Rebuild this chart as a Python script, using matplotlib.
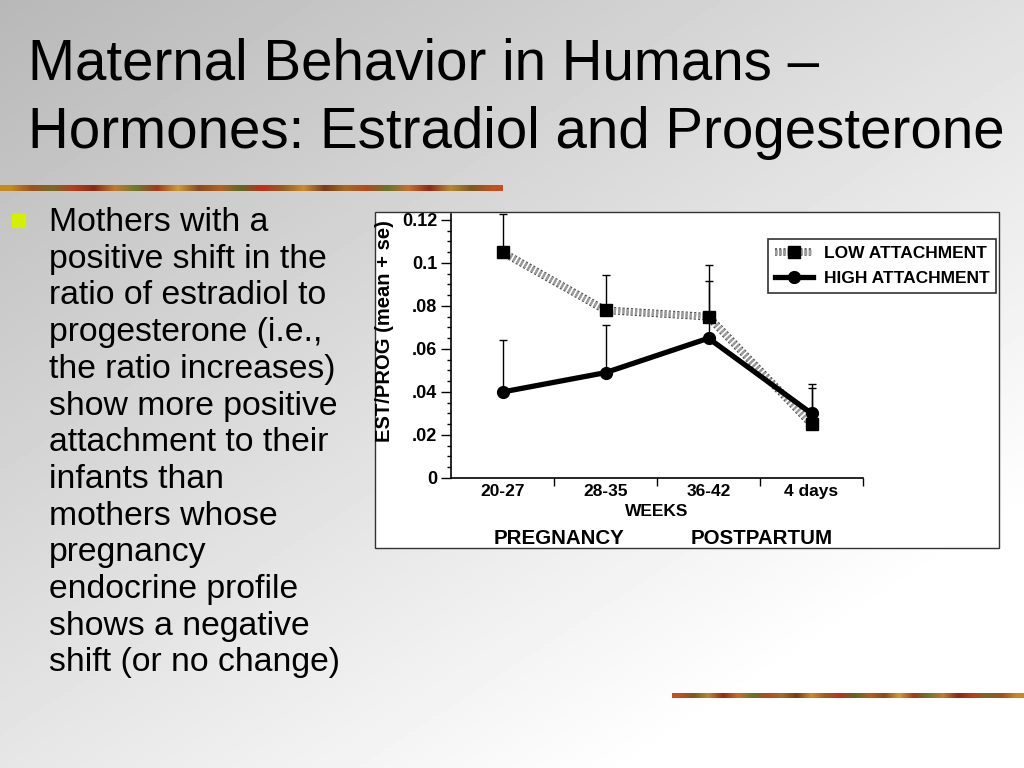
import matplotlib
matplotlib.use("Agg")
import matplotlib.pyplot as plt
import matplotlib.patheffects as pe
import numpy as np
from matplotlib.patches import Rectangle
from matplotlib.ticker import FixedLocator, MultipleLocator

plt.rcParams["font.family"] = ["Liberation Sans", "DejaVu Sans"]

# ---------- data ------------------------------------------------------
weeks = ["20-27", "28-35", "36-42", "4 days"]
low_mean = [0.105, 0.078, 0.075, 0.025]
low_se = [0.018, 0.0165, 0.024, 0.0187]
high_mean = [0.040, 0.049, 0.065, 0.030]
high_se = [0.024, 0.022, 0.0268, 0.0117]
ytick_vals = [0, 0.02, 0.04, 0.06, 0.08, 0.10, 0.12]
ytick_text = ["0", ".02", ".04", ".06", ".08", "0.1", "0.12"]

title_lines = ["Maternal Behavior in Humans \u2013",
               "Hormones: Estradiol and Progesterone"]
bullet_lines = ["Mothers with a", "positive shift in the", "ratio of estradiol to",
                "progesterone (i.e.,", "the ratio increases)", "show more positive",
                "attachment to their", "infants than", "mothers whose",
                "pregnancy", "endocrine profile", "shows a negative",
                "shift (or no change)"]

# autumn texture colours for the decorative strips
strip_colors = ["#c8891e", "#a0521c", "#7a6a22", "#b5401a", "#8c2a12", "#c47a2a",
                "#6e7a2a", "#a33a18", "#d29a32", "#8a4a1a", "#b8601e", "#5e6a24",
                "#c0301a", "#9a5a20", "#d08a2a", "#7a3a16", "#a86a22", "#b44a1c",
                "#6a7428", "#c8702a", "#902a14", "#b88a2e", "#7e5a1e", "#c4501e"]

W, H = 1024, 768
fig = plt.figure(figsize=(W / 100, H / 100), dpi=100)

# ---------- slide background -----------------------------------------
bg = fig.add_axes([0, 0, 1, 1])
bg.axis("off")
xx, yy = np.meshgrid(np.linspace(0, 1, 256), np.linspace(0, 1, 192))
grad = np.clip((184 + 40 * xx + 46 * yy) / 255.0, 0, 1)
bg.imshow(grad, cmap="gray", vmin=0, vmax=1, extent=(0, W, H, 0), aspect="auto")

strip = np.array([[matplotlib.colors.to_rgb(c) for c in strip_colors]])
bg.imshow(strip, extent=(0, 503, 191, 185), aspect="auto", interpolation="bilinear")
bg.imshow(strip[:, ::-1], extent=(672, W, 698, 693), aspect="auto",
          interpolation="bilinear")
bg.set_xlim(0, W)
bg.set_ylim(H, 0)

for i, line in enumerate(title_lines):
    bg.text(28, 80 + i * 68, line, fontsize=40.7, color="black", va="baseline")

bg.add_patch(Rectangle((12, 214), 13, 13, color="#d4f000"))
for i, line in enumerate(bullet_lines):
    bg.text(49, 231 + i * 36.7, line, fontsize=24.3, color="black", va="baseline")

# white chart panel
bg.add_patch(Rectangle((375, 212), 624, 336, facecolor="white",
                       edgecolor="#333333", lw=1))

# ---------- chart -----------------------------------------------------
ax = fig.add_axes([451 / W, 1 - 478 / H, 412 / W, 264.5 / H])
ax.patch.set_alpha(0)
x = np.arange(len(weeks))

ax.errorbar(x, low_mean, yerr=[np.zeros(4), low_se], fmt="none", ecolor="black",
            elinewidth=1, capsize=3, capthick=1, zorder=2, clip_on=False)
ax.errorbar(x, high_mean, yerr=[np.zeros(4), high_se], fmt="none", ecolor="black",
            elinewidth=1, capsize=3, capthick=1, zorder=2, clip_on=False)

hatch = [pe.Stroke(linewidth=5.5, foreground="#4a4a4a"),
         pe.Stroke(linewidth=3.8, foreground="#e4e4e4"), pe.Normal()]
low_line, = ax.plot(x, low_mean, color="#9a9a9a", lw=3.8, ls=(0, (0.4, 0.4)),
                    solid_capstyle="butt", path_effects=hatch, zorder=3)
low_mk, = ax.plot(x, low_mean, ls="none", marker="s", ms=9, color="black",
                  zorder=5)
high_line, = ax.plot(x, high_mean, color="black", lw=3.8, zorder=4)
high_mk, = ax.plot(x, high_mean, ls="none", marker="o", ms=8.5, color="black",
                   zorder=4)

ax.set_xlim(-0.5, 3.5)
ax.set_ylim(0, 0.123)
ax.set_xticks(x)
ax.set_xticklabels(weeks, fontsize=12.5, fontweight="bold")
ax.xaxis.set_minor_locator(FixedLocator([0.5, 1.5, 2.5, 3.5]))
ax.tick_params(axis="x", which="major", length=0, pad=4)
ax.tick_params(axis="x", which="minor", length=6, width=1, direction="out")
ax.set_yticks(ytick_vals)
ax.set_yticklabels(ytick_text, fontsize=13, fontweight="bold")
ax.yaxis.set_minor_locator(MultipleLocator(0.005))
ax.tick_params(axis="y", which="major", length=7, width=1, direction="out", pad=3)
ax.tick_params(axis="y", which="minor", length=3, width=1, direction="out")
for s in ("top", "right"):
    ax.spines[s].set_visible(False)
for s in ("left", "bottom"):
    ax.spines[s].set_linewidth(1.2)

bg.text(385, 331, "EST/PROG (mean + se)", rotation=90, ha="center", va="center",
        fontsize=14.5, fontweight="bold")
bg.text(657, 511, "WEEKS", ha="center", va="center", fontsize=12.5,
        fontweight="bold")
bg.text(559, 538, "PREGNANCY", ha="center", va="center", fontsize=14.8,
        fontweight="bold")
bg.text(762, 538, "POSTPARTUM", ha="center", va="center", fontsize=14.8,
        fontweight="bold")

leg = fig.legend([(low_line, low_mk), (high_line, high_mk)],
                 ["LOW ATTACHMENT", "HIGH ATTACHMENT"],
                 loc="upper left", bbox_to_anchor=(768 / W, 1 - 239 / H),
                 prop={"size": 12.5, "weight": "bold"}, frameon=True,
                 fancybox=False, edgecolor="black", handlelength=2.2,
                 handletextpad=0.6, borderpad=0.4, labelspacing=0.55,
                 borderaxespad=0)
leg.get_frame().set_linewidth(1.2)

fig.savefig("out.png", dpi=100)
